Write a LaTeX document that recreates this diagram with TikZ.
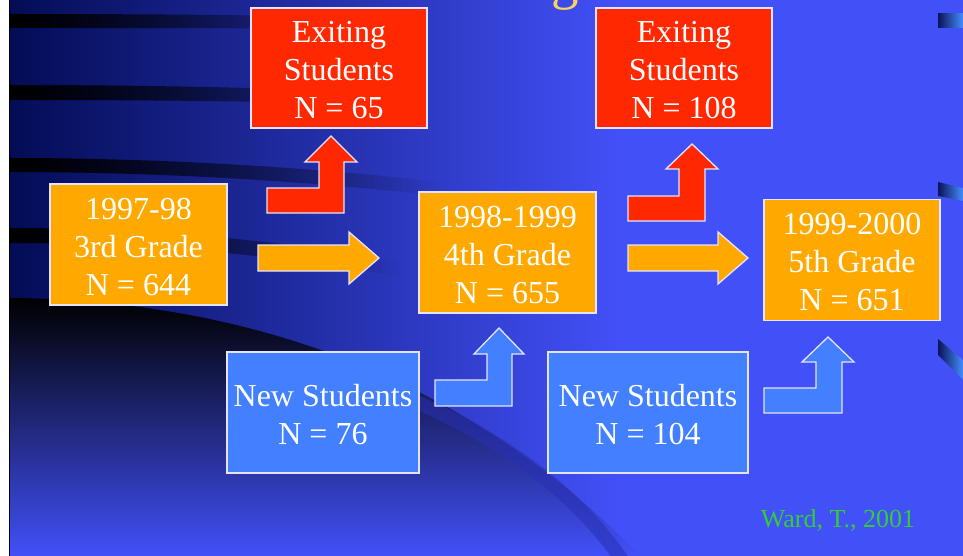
\documentclass[tikz,border=0pt]{standalone}
\usepackage{fontspec}
\setmainfont{Liberation Serif}
\usetikzlibrary{fadings}
\tikzfading[name=fadeR, left color=transparent!0, right color=transparent!100]
\definecolor{bgblue}{RGB}{66,80,248}
\definecolor{bgnavy}{RGB}{3,12,85}
\definecolor{midnavy}{RGB}{35,45,170}
\definecolor{bandblue}{RGB}{40,48,180}
\definecolor{gradeorange}{RGB}{255,168,0}
\definecolor{exitred}{RGB}{255,40,0}
\definecolor{newblue}{RGB}{66,128,255}
\definecolor{edgewhite}{RGB}{228,228,255}
\definecolor{citegreen}{RGB}{50,205,55}
\definecolor{titleyellow}{RGB}{250,210,100}
\definecolor{bulletlight}{RGB}{70,140,255}
\definecolor{bulletdark}{RGB}{10,20,90}
\newcommand\firststrut{\rule{0pt}{26pt}}
\begin{document}
\begin{tikzpicture}[x=1pt,y=-1pt,
  stat/.style={draw=edgewhite, line width=1.3pt, text=white, align=center,
    inner sep=0pt, font=\fontsize{32}{38}\selectfont},
  gradebox/.style={stat, fill=gradeorange, minimum width=177pt, minimum height=121pt},
  exitbox/.style={stat, fill=exitred, minimum width=176pt, minimum height=120pt},
  newbox/.style={stat, fill=newblue, minimum height=121pt},
  blockarrow/.style={draw=edgewhite, line width=1.3pt, line join=miter},
  streak/.style={fill=black, path fading=fadeR},
  bulletpiece/.style={left color=bulletdark, right color=bulletlight}]
\useasboundingbox (0,0) rectangle (963,556);
\clip (0,0) rectangle (963,556);
% background
\fill[white] (0,0) rectangle (10,556);
\fill[bgblue] (10,0) rectangle (963,556);
\shade[left color=bgnavy, right color=bgblue] (10,0) rectangle (620,556);
% streaks
\fill[streak] (10,14) .. controls (150,14) and (250,15) .. (340,17) -- (340,29) .. controls (250,28) and (150,28) .. (10,28) -- cycle;
\fill[streak] (10,85) .. controls (150,85) and (280,88) .. (400,93) -- (400,106) .. controls (280,101) and (150,100) .. (10,100) -- cycle;
\fill[streak] (10,158) .. controls (150,158) and (300,166) .. (440,182) -- (440,196) .. controls (300,180) and (150,172) .. (10,172) -- cycle;
\fill[streak] (10,228) .. controls (150,228) and (280,240) .. (400,262) -- (400,277) .. controls (280,255) and (150,243) .. (10,243) -- cycle;
% swoosh
\shade[top color=black, middle color=midnavy, bottom color=bgblue]
  (10,298) .. controls (220,300) and (450,360) .. (640,556) -- (10,556) -- cycle;
\draw[bandblue, opacity=0.55, line width=14pt] (330,372) .. controls (450,405) and (560,470) .. (622,560);
% left rule
\draw[black, line width=1pt] (9.5,0) -- (9.5,556);
% title fragment
\node[anchor=base, text=titleyellow, inner sep=0pt, font=\fontsize{55}{60}\selectfont] (ttl) at (565,-1.5) {g};
% bullet pieces
\shade[bulletpiece] (938,14) -- (963,14) -- (963,28) -- (938,28) -- cycle;
\shade[bulletpiece] (938,182) -- (963,188) -- (963,201) -- (938,196) -- cycle;
\shade[bulletpiece] (938,339) -- (963,360) -- (963,380) -- (938,355) -- cycle;
% boxes
\node[exitbox] (ex1) at (339,68) {\firststrut Exiting\\Students\\N = 65};
\node[exitbox] (ex2) at (684,68) {\firststrut Exiting\\Students\\N = 108};
\node[gradebox] (g3) at (138.5,244.5) {\firststrut 1997-98\\3rd Grade\\N = 644};
\node[gradebox] (g4) at (507.5,252.5) {\firststrut 1998-1999\\4th Grade\\N = 655};
\node[gradebox, minimum width=176pt] (g5) at (852,260) {\firststrut 1999-2000\\5th Grade\\N = 651};
\node[newbox, minimum width=192pt] (n1) at (323,412.5) {\firststrut New Students\\N = 76};
\node[newbox, minimum width=200pt] (n2) at (648,412.5) {\firststrut New Students\\N = 104};
% straight arrows
\filldraw[blockarrow, fill=gradeorange] (258,245) -- (349,245) -- (349,232) -- (379,258) -- (349,284) -- (349,271) -- (258,271) -- cycle;
\filldraw[blockarrow, fill=gradeorange] (628,245) -- (718,245) -- (718,232) -- (748,258) -- (718,284) -- (718,271) -- (628,271) -- cycle;
% exiting arrows
\filldraw[blockarrow, fill=exitred] (267,188) -- (319,188) -- (319,162) -- (305,162) -- (331,136) -- (357,162) -- (344,162) -- (344,213) -- (267,213) -- cycle;
\filldraw[blockarrow, fill=exitred] (628,196) -- (679,196) -- (679,169) -- (666,169) -- (692,144) -- (718,169) -- (705,169) -- (705,221) -- (628,221) -- cycle;
% new student arrows
\filldraw[blockarrow, fill=newblue] (435,380) -- (487,380) -- (487,354) -- (474,354) -- (499,328) -- (524,354) -- (512,354) -- (512,406) -- (435,406) -- cycle;
\filldraw[blockarrow, fill=newblue] (764,388) -- (816,388) -- (816,362) -- (802,362) -- (828,337) -- (854,362) -- (842,362) -- (842,413) -- (764,413) -- cycle;
% citation
\node[anchor=base, text=citegreen, inner sep=0pt, font=\fontsize{26}{30}\selectfont] (cite) at (838,527) {Ward, T., 2001};
\end{tikzpicture}
\end{document}
